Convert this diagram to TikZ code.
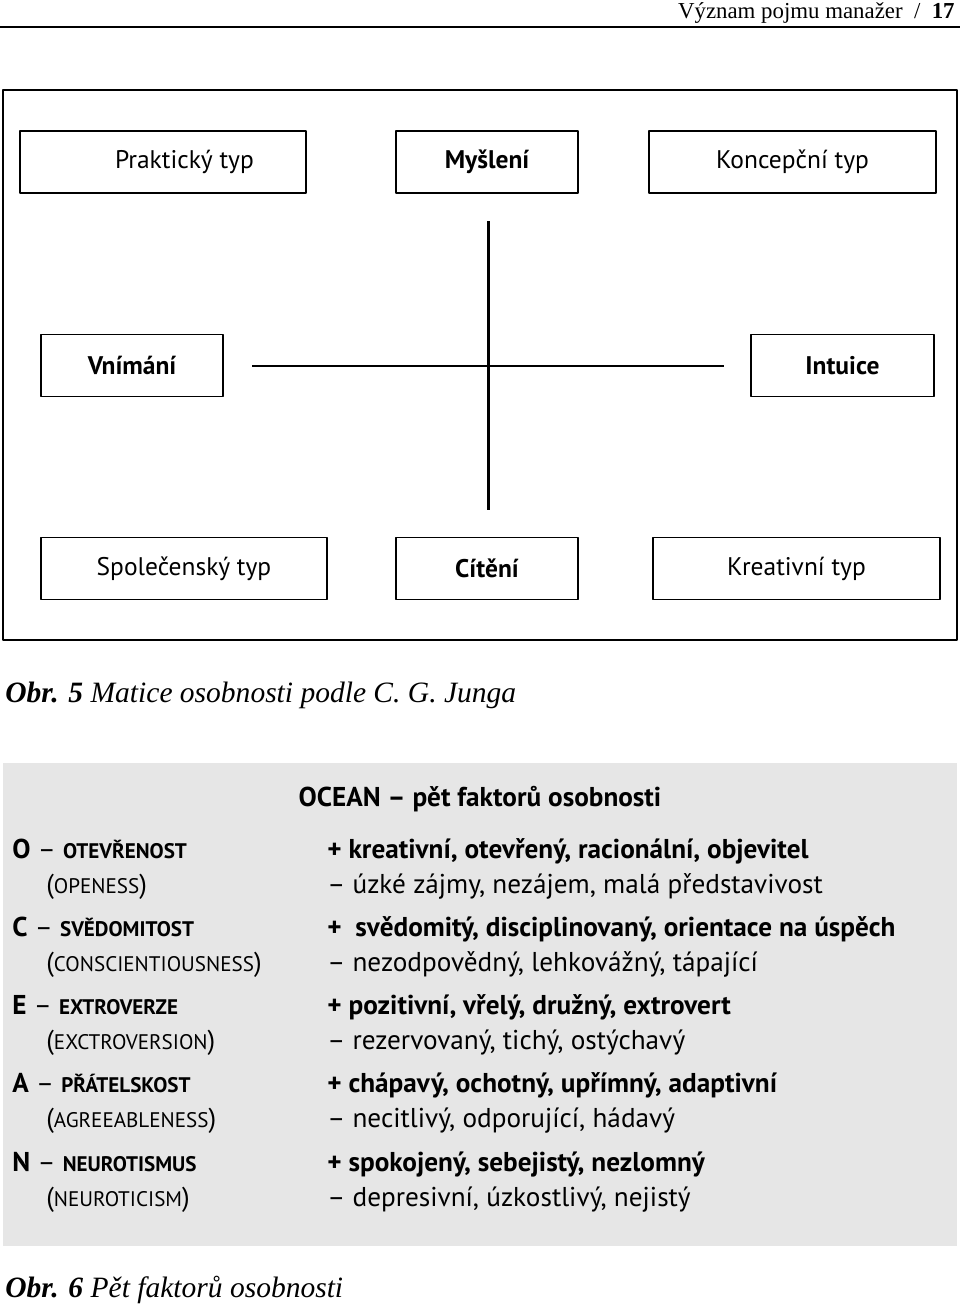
\documentclass[tikz,border=0pt]{standalone}
\usepackage{fontspec}
\setmainfont{Liberation Serif}
\newfontfamily\boxfont{PT Sans}
\definecolor{oceangray}{RGB}{230,230,230}
\tikzset{
  typbox/.style={draw, line width=1.1pt, minimum width=#1, minimum height=1.24cm,
    inner sep=0pt, font=\boxfont\fontsize{14.5}{17}\selectfont},
  rowtext/.style={anchor=base west, inner sep=0pt, font=\boxfont\fontsize{15.5}{18}\selectfont},
  caption/.style={anchor=base west, inner sep=0pt, font=\fontsize{16.8}{20}\selectfont\itshape}
}
\newcommand{\smcaps}[1]{{\fontsize{12}{14}\selectfont #1}}
\begin{document}
\begin{tikzpicture}[x=0.02cm,y=-0.02cm, line join=round, line cap=round]
	\useasboundingbox (0,0) rectangle (960,1308);
	% záhlaví stránky
	\node[anchor=base east, inner sep=0pt, font=\fontsize{13}{16}\selectfont] (head) at (955,19)
		{Význam pojmu manažer~~/~~\textbf{17}};
	\coordinate (R1) at (0,27);
	\coordinate (R2) at (960,27);
	\draw[line width=1.6pt, line cap=butt] (R1) -- (R2);
	
	% Obr. 5 -- matice podle Junga
	\draw[line width=1.3pt] (3,90) rectangle (957,640);
	\node[typbox=5.72cm] (prakt) at (163,162) {\hspace*{0.86cm}Praktický typ};
	\node[typbox=3.64cm] (mysl) at (487,162) {\bfseries Myšlení};
	\node[typbox=5.74cm] (konc) at (792.5,162) {Koncepční typ};
	\node[typbox=3.64cm] (vnim) at (132,365.5) {\bfseries Vnímání};
	\node[typbox=3.66cm] (intu) at (842.5,365.5) {\bfseries Intuice};
	\node[typbox=5.72cm] (spol) at (184,568.5) {Společenský typ};
	\node[typbox=3.64cm] (citen) at (487,568.5) {\bfseries Cítění};
	\node[typbox=5.74cm] (kreat) at (796.5,568.5) {Kreativní typ};
	% osový kříž
	\coordinate (top) at (488,221);
	\coordinate (bot) at (488,510);
	\coordinate (lft) at (252,366);
	\coordinate (rgt) at (724,366);
	\draw[line width=1.7pt, line cap=butt] (top) -- (bot);
	\draw[line width=1.7pt, line cap=butt] (lft) -- (rgt);
	\node[caption] (obr5) at (5,702) {\textbf{Obr. 5} Matice osobnosti podle C. G. Junga};
	
	% Obr. 6 -- OCEAN
	\fill[oceangray] (3,763) rectangle (957,1246);
	\node[rowtext, anchor=base] (ocean) at (480,806) {\bfseries OCEAN – pět faktorů osobnosti};
	\foreach \l/\cz/\en/\pl/\mi [count=\i from 0] in {
		O/OTEVŘENOST/OPENESS/{kreativní, otevřený, racionální, objevitel}/{úzké zájmy, nezájem, malá představivost},
		C/SVĚDOMITOST/CONSCIENTIOUSNESS/{\ svědomitý, disciplinovaný, orientace na úspěch}/{nezodpovědný, lehkovážný, tápající},
		E/EXTROVERZE/EXCTROVERSION/{pozitivní, vřelý, družný, extrovert}/{rezervovaný, tichý, ostýchavý},
		A/PŘÁTELSKOST/AGREEABLENESS/{chápavý, ochotný, upřímný, adaptivní}/{necitlivý, odporující, hádavý},
		N/NEUROTISMUS/NEUROTICISM/{spokojený, sebejistý, nezlomný}/{depresivní, úzkostlivý, nejistý}} {
		\pgfmathsetmacro\yy{858+78.3*\i}
		\node[rowtext] (cz\i) at (12,\yy) {\textbf{\l} – \textbf{\smcaps{\cz}}};
		\node[rowtext] (en\i) at (46,\yy+35) {(\smcaps{\en})};
		\node[rowtext] (pl\i) at (327,\yy) {\bfseries + \pl};
		\node[rowtext] (mi\i) at (327,\yy+35) {– \mi};
	}
	\node[caption] (obr6) at (5,1297) {\textbf{Obr. 6} Pět faktorů osobnosti};
\end{tikzpicture}
\end{document}
